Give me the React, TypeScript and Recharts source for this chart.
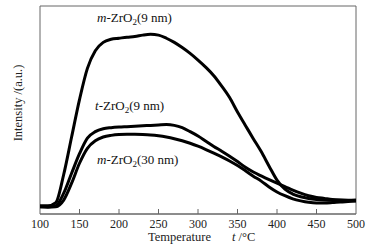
import React from 'react';
import { LineChart, Line, XAxis, YAxis, ReferenceArea } from 'recharts';

const temperatures = [
  100, 110, 120, 130, 140, 150, 160, 170, 180, 190, 200, 210, 220, 230, 240, 250, 260, 270, 280, 290, 300,
  310, 320, 330, 340, 350, 360, 370, 380, 390, 400, 410, 420, 430, 440, 450, 460, 470, 480, 490, 500,
];
const mZrO2_9nm = [
  4, 4, 5.5, 19, 37, 55, 70, 78.5, 82.5, 84, 84.5, 85, 85.3, 86, 86.4, 86, 84.5, 82.5, 80, 77.2, 74,
  70.5, 66.5, 61.5, 56, 49, 42.6, 36.2, 30, 23, 16.3, 11.9, 9.6, 8.3, 7.5, 7, 6.7, 6.6, 6.6, 6.6, 6.7,
];
const tZrO2_9nm = [
  3.5, 3.5, 4, 10, 19.6, 29, 36.5, 39.6, 41, 41.5, 41.8, 42, 42.2, 42.4, 42.6, 42.8, 43, 42.6, 41.5, 39.6, 37.5,
  35, 32.5, 30.2, 27.8, 25.2, 22.5, 20.2, 18.3, 16.5, 14.8, 13.2, 11.5, 10, 8.8, 8, 7.5, 7, 6.7, 6.5, 6.4,
];
const mZrO2_30nm = [
  3.5, 3.3, 3.5, 6.7, 14.8, 24.4, 31.6, 35.2, 37, 37.8, 38.2, 38.3, 38.3, 38.2, 38, 37.6, 37, 36.2, 35.2, 34, 32.6,
  31, 29.3, 27.5, 25.5, 23.3, 20.8, 18.2, 15.8, 13, 10.6, 8.8, 7.3, 6.3, 5.6, 5.3, 5.3, 5.5, 5.8, 6, 6.2,
];
const xTicks = [100, 150, 200, 250, 300, 350, 400, 450, 500];

const data = temperatures.map((t, i) => ({
  t,
  m9: mZrO2_9nm[i],
  t9: tZrO2_9nm[i],
  m30: mZrO2_30nm[i],
}));

const FONT = "'Liberation Serif', 'Times New Roman', serif";
const AXIS = '#666';

const Tick = (props: any) => {
  const { x, y, payload } = props;
  const v = payload.value;
  return (
    <g>
      {v !== 100 && v !== 500 && <line x1={x} x2={x} y1={y} y2={y - 5} stroke={AXIS} strokeWidth={1} />}
      <text x={x} y={y + 14} textAnchor="middle" fontSize={12} fontFamily={FONT} fill="#222">
        {v}
      </text>
    </g>
  );
};

const Formula = ({ x, y, prefix, size }: { x: number; y: number; prefix: string; size: string }) => (
  <text x={x} y={y} fontSize={13} fontFamily={FONT} fill="#111">
    <tspan fontStyle="italic">{prefix}</tspan>
    <tspan>-ZrO</tspan>
    <tspan fontSize={9} dy={3}>2</tspan>
    <tspan dy={-3}>{`(${size})`}</tspan>
  </text>
);

export default function App() {
  return (
    <div style={{ position: 'absolute', left: 0, top: 0, width: 378, height: 248, background: '#fff' }}>
      <LineChart width={378} height={248} data={data} margin={{ top: 6, right: 22, bottom: 0, left: 40 }}>
        <XAxis
          dataKey="t"
          type="number"
          domain={[100, 500]}
          ticks={xTicks}
          height={34}
          tickSize={0}
          tickMargin={0}
          tick={<Tick />}
          tickLine={false}
          axisLine={{ stroke: AXIS }}
          allowDataOverflow
        />
        <YAxis hide type="number" domain={[0, 100]} allowDataOverflow />
        <ReferenceArea x1={100} x2={500} y1={0} y2={100} fill="none" stroke={AXIS} strokeWidth={1} />
        <Line type="monotone" dataKey="m9" stroke="#000" strokeWidth={3} dot={false} isAnimationActive={false} />
        <Line type="monotone" dataKey="t9" stroke="#000" strokeWidth={3} dot={false} isAnimationActive={false} />
        <Line type="monotone" dataKey="m30" stroke="#000" strokeWidth={3} dot={false} isAnimationActive={false} />
        <Formula x={97} y={22} prefix="m" size="9 nm" />
        <Formula x={95} y={110} prefix="t" size="9 nm" />
        <Formula x={97} y={164} prefix="m" size="30 nm" />
        <text x={22} y={103} transform="rotate(-90 22 103)" textAnchor="middle" fontSize={12.5} fontFamily={FONT} fill="#222">
          Intensity /(a.u.)
        </text>
        <text x={148} y={241} fontSize={12.5} fontFamily={FONT} fill="#222">
          Temperature
          <tspan x={232} fontStyle="italic">t</tspan>
          <tspan> /°C</tspan>
        </text>
      </LineChart>
    </div>
  );
}
